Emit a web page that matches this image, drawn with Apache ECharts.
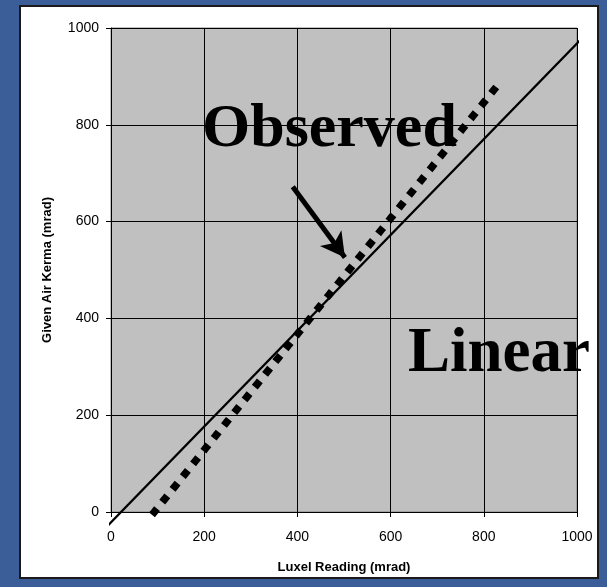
<!DOCTYPE html>
<html>
<head>
<meta charset="utf-8">
<script src="https://cdn.jsdelivr.net/npm/echarts@6/dist/echarts.min.js"></script>
<style>html,body{margin:0;padding:0;background:#3b5e98;}#c{width:607px;height:587px;}</style>
</head>
<body>
<div id="c"></div>
<script>
// Data
const xTicks = [0, 200, 400, 600, 800, 1000];
const yTicks = [0, 200, 400, 600, 800, 1000];
const linearLine = [[-20, -41], [1006, 974]];
const observedLine = [[93, 0], [825, 876]];
const arrowFrom = [390, 672];
const arrowTo = [502, 526];
const labelObserved = 'Observed';
const labelLinear = 'Linear';
const xTitle = 'Luxel Reading (mrad)';
const yTitle = 'Given Air Kerma (mrad)';

const chart = echarts.init(document.getElementById('c'), null, {renderer: 'canvas'});
const axisCommon = {
  type: 'value', min: xTicks[0], max: xTicks[xTicks.length - 1], interval: 200,
  axisLine: {show: true, lineStyle: {color: '#000', width: 1}},
  axisTick: {show: true, length: 5, lineStyle: {color: '#000'}},
  splitLine: {show: true, lineStyle: {color: '#000', width: 1}},
  axisLabel: {color: '#000', fontFamily: 'Liberation Sans', fontSize: 14,
              formatter: function (v) { return String(v); }},
  nameLocation: 'middle',
  nameTextStyle: {color: '#000', fontFamily: 'Liberation Sans', fontSize: 13, fontWeight: 'bold'}
};
chart.setOption({
  backgroundColor: '#3b5e98',
  animation: false,
  graphic: [
    {type: 'rect', z: -10, shape: {x: 20, y: 6, width: 578, height: 572},
     style: {fill: '#ffffff', stroke: '#1a1a1a', lineWidth: 2}},
    {type: 'text', z: 100, left: 202, top: 99,
     style: {text: labelObserved, font: 'bold 62px "Liberation Serif"', fill: '#000'}},
    {type: 'text', z: 100, left: 408, top: 323,
     style: {text: labelLinear, font: 'bold 63px "Liberation Serif"', fill: '#000'}}
  ],
  grid: {left: 111, right: 30, top: 28, bottom: 75, show: true,
         backgroundColor: '#c0c0c0', borderColor: '#808080', borderWidth: 1},
  xAxis: Object.assign({}, axisCommon, {
    name: xTitle, nameGap: 49,
    axisLabel: Object.assign({}, axisCommon.axisLabel, {margin: 18})
  }),
  yAxis: Object.assign({}, axisCommon, {
    min: yTicks[0], max: yTicks[yTicks.length - 1],
    name: yTitle, nameGap: 57,
    axisLabel: Object.assign({}, axisCommon.axisLabel, {margin: 12})
  }),
  series: [
    {type: 'line', data: linearLine, symbol: 'none', clip: false, z: 5,
     lineStyle: {color: '#000', width: 2.2}},
    {type: 'line', data: observedLine, symbol: 'none', clip: false, z: 6,
     lineStyle: {color: '#000', width: 7.5, type: [0.5, 15.9], cap: 'square'},
     markLine: {
       silent: true, symbol: ['none', 'arrow'], symbolSize: [20, 24],
       label: {show: false},
       lineStyle: {color: '#000', width: 5, type: 'solid'},
       data: [[{coord: arrowFrom}, {coord: arrowTo}]]
     }}
  ]
});
</script>
</body>
</html>
